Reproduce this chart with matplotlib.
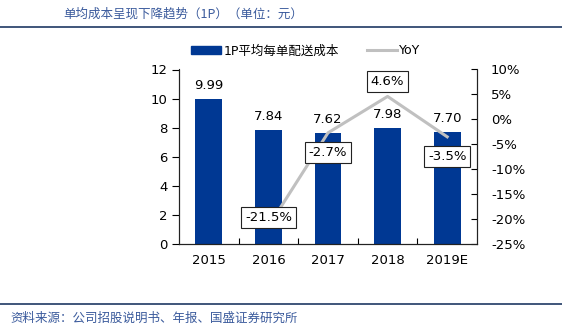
import matplotlib
matplotlib.use("Agg")
from matplotlib import pyplot as plt
from matplotlib.lines import Line2D

plt.rcParams['font.family'] = ['DejaVu Sans', 'Noto Sans CJK SC']

years = ['2015', '2016', '2017', '2018', '2019E']
cost = [9.99, 7.84, 7.62, 7.98, 7.70]
yoy_years = ['2016', '2017', '2018', '2019E']
yoy = [-21.5, -2.7, 4.6, -3.5]
yoy_labels = ['-21.5%', '-2.7%', '4.6%', '-3.5%']
right_ticks = [10, 5, 0, -5, -10, -15, -20, -25]

BLUE = '#003893'
GREY = '#c0c0c0'
NAVY = '#1f3864'

fig = plt.figure(figsize=(5.62, 3.31), dpi=100)
ax = fig.add_axes([179/562, 1-244/331, (477-179)/562, (244-69.5)/331])

x = list(range(len(years)))
ax.bar(x, cost, width=0.45, color=BLUE, zorder=2)
for xi, v in zip(x, cost):
    ax.annotate(f"{v:.2f}", (xi, v), xytext=(0, 5), textcoords='offset points',
                ha='center', va='bottom', fontsize=9.5)

ax.set_xlim(-0.5, len(years) - 0.5)
ax.set_ylim(0, 12)
ax.set_yticks(range(0, 13, 2))
ax.set_xticks(x)
ax.set_xticklabels(years)
ax.set_xticks([i + 0.5 for i in x[:-1]], minor=True)
ax.tick_params(axis='x', which='major', length=0, pad=7, labelsize=9.5)
ax.tick_params(axis='x', which='minor', direction='in', length=4, width=0.8)
ax.tick_params(axis='y', direction='out', length=5, width=0.8, labelsize=9.5, pad=3)
ax.spines['top'].set_visible(False)
for s in ('left', 'bottom', 'right'):
    ax.spines[s].set_linewidth(0.8)
    ax.spines[s].set_color('#222222')

ax2 = ax.twinx()
xl = [years.index(y) for y in yoy_years]
ax2.plot(xl, yoy, color=GREY, lw=2.2, zorder=3)
ax2.set_ylim(-25, 10)
ax2.set_yticks(right_ticks)
ax2.set_yticklabels([f"{t}%" for t in right_ticks])
ax2.tick_params(axis='y', direction='in', length=4, width=0.8, labelsize=9.5, pad=10)
ax2.spines['top'].set_visible(False)
for s in ('left', 'bottom', 'right'):
    ax2.spines[s].set_linewidth(0.8)
    ax2.spines[s].set_color('#222222')

# label offsets in points
offsets = [6.5, -14.5, 11, -14.5]
for xi, v, lab, off in zip(xl, yoy, yoy_labels, offsets):
    ax2.annotate(lab, (xi, v), xytext=(0, off), textcoords='offset points',
                 ha='center', va='center', fontsize=9.5, zorder=5,
                 bbox=dict(boxstyle='square,pad=0.3', fc='white', ec='#222222', lw=0.8))

handles = [plt.Rectangle((0, 0), 1, 1, color=BLUE),
           Line2D([], [], color=GREY, lw=2.2)]
fig.legend(handles, ['1P平均每单配送成本', 'YoY'], loc='center',
           bbox_to_anchor=(306/562, 1-51/331), ncol=2, frameon=False,
           fontsize=9, handlelength=2.4, handleheight=0.55, columnspacing=2.2,
           handletextpad=0.2)

fig.text(63/562, 1-14/331, '单均成本呈现下降趋势（1P）（单位：元）', fontsize=9,
         color='#3a5a9c', va='center', ha='left', family=['Noto Sans CJK SC'])
fig.add_artist(Line2D([0, 1], [1-27/331, 1-27/331], color=NAVY, lw=1.2))
fig.add_artist(Line2D([0, 1], [1-304/331, 1-304/331], color=NAVY, lw=1.2))
fig.text(10/562, 1-318/331, '资料来源：公司招股说明书、年报、国盛证券研究所', fontsize=9,
         color='#3a5a9c', va='center', ha='left', family=['Noto Sans CJK SC'])

fig.savefig('out.png', dpi=100)
